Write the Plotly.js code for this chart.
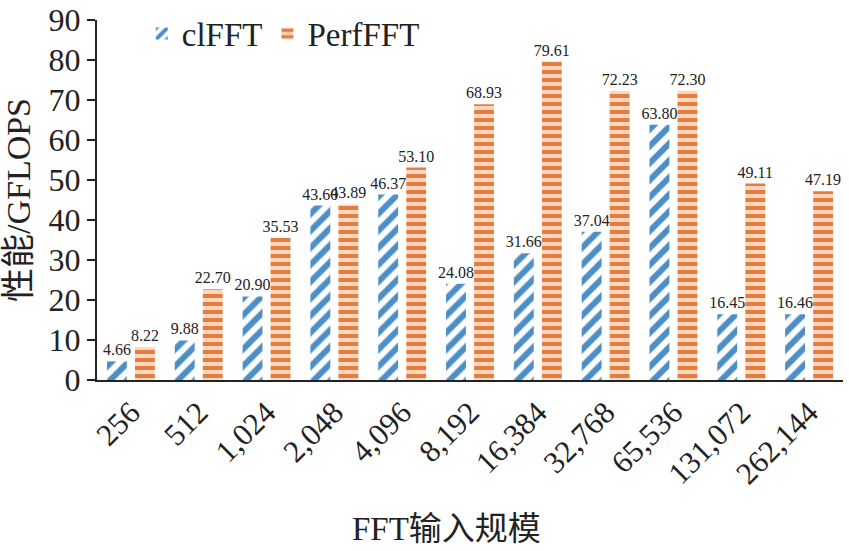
<!DOCTYPE html>
<html><head><meta charset="utf-8">
<script src="https://cdn.plot.ly/plotly-3.0.1.min.js"></script>
<style>body{margin:0;background:#fff}</style>
</head><body><div id="chart" style="width:849px;height:551px"></div>
<script>
const categories = ["256","512","1,024","2,048","4,096","8,192","16,384","32,768","65,536","131,072","262,144"];
const clFFT = [4.66, 9.88, 20.90, 43.60, 46.37, 24.08, 31.66, 37.04, 63.80, 16.45, 16.46];
const perfFFT = [8.22, 22.70, 35.53, 43.89, 53.10, 68.93, 79.61, 72.23, 72.30, 49.11, 47.19];
const seriesNames = ["clFFT", "PerfFFT"];
const xTitle = "FFT输入规模";
const yTitle = "性能/GFLOPS";

const font = "Liberation Serif, Noto Sans CJK SC, serif";
const traces = [
  {type:'bar', name: seriesNames[0], x: categories, y: clFFT,
   text: clFFT.map(v => v.toFixed(2)), textposition:'outside', constraintext:'none', cliponaxis:false,
   textfont:{family:font, size:16, color:'#222'},
   marker:{color:'#ffffff', line:{width:0}, pattern:{shape:'/', fgcolor:'#4b8ec8', bgcolor:'#ffffff', fgopacity:1, size:12, solidity:0.5, fillmode:'replace'}}},
  {type:'bar', name: seriesNames[1], x: categories, y: perfFFT,
   text: perfFFT.map(v => v.toFixed(2)), textposition:'outside', constraintext:'none', cliponaxis:false,
   textfont:{family:font, size:16, color:'#222'},
   marker:{color:'#fdd6bd', line:{width:0}, pattern:{shape:'-', fgcolor:'#e47d42', bgcolor:'#fdd6bd', fgopacity:1, size:8, solidity:0.5, fillmode:'replace'}}}
];
const layout = {
  width:849, height:551,
  margin:{l:97, r:6, t:18, b:171},
  paper_bgcolor:'#fff', plot_bgcolor:'#fff',
  font:{family:font, color:'#222'},
  barmode:'group', bargap:0.174, bargroupgap:0.29,
  showlegend:true,
  legend:{orientation:'h', x:0.06, y:1.04, xanchor:'left', yanchor:'top', font:{family:font, size:33, color:'#222'}, bgcolor:'rgba(0,0,0,0)', itemwidth:30, tracegroupgap:0},
  xaxis:{type:'category', showline:true, linecolor:'#222', linewidth:2, ticks:'', tickangle:-45,
    tickfont:{family:font, size:31, color:'#222'}, showgrid:false, automargin:false},
  yaxis:{range:[0,90], dtick:10, showline:true, linecolor:'#222', linewidth:2, ticks:'outside', ticklen:8, tickwidth:2, tickcolor:'#222',
    tickfont:{family:font, size:32, color:'#222'}, showgrid:false, zeroline:false, automargin:false,
    title:{text:yTitle, font:{family:font, size:34, color:'#222'}, standoff:14}},
  annotations:[{text:xTitle, xref:'paper', yref:'paper', x:0.468, y:-0.414, xanchor:'center', yanchor:'middle', showarrow:false,
    font:{family:font, size:33, color:'#222'}}]
};
Plotly.newPlot('chart', traces, layout, {displayModeBar:false, staticPlot:true});
</script></body></html>
